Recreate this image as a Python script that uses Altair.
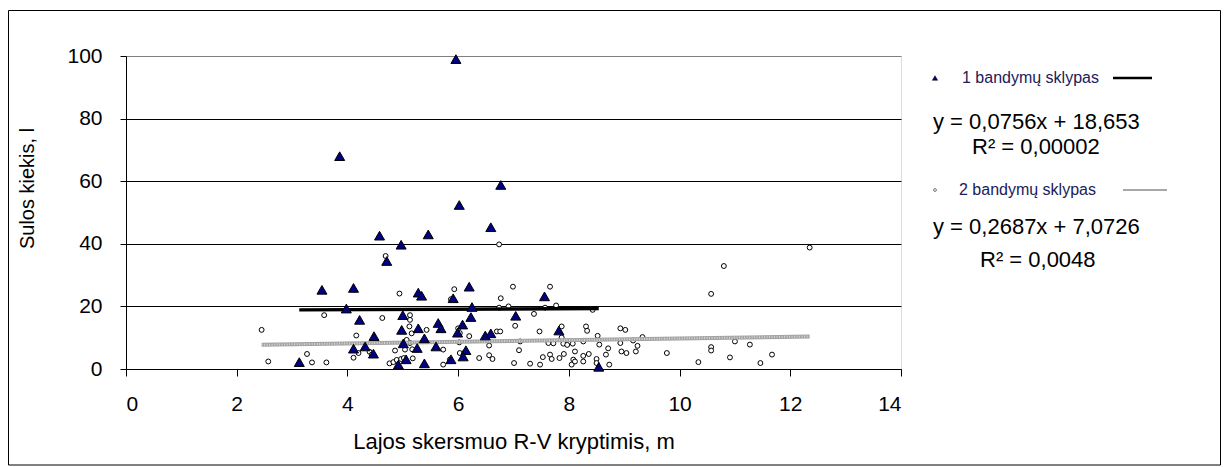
import altair as alt
import pandas as pd

# ---- data ----
s1_x = [5.96, 3.86, 6.77, 6.02, 6.59, 4.58, 5.46, 4.97, 4.71, 3.54, 4.11, 5.28, 5.34, 6.20, 5.91,
        7.56, 3.98, 6.25, 4.22, 5.00, 7.04, 6.23, 4.98, 5.28, 5.64, 5.69, 6.08, 5.99, 4.48, 7.82,
        6.49, 6.59, 5.39, 4.11, 4.32, 4.47, 5.01, 5.26, 5.60, 6.14, 5.06, 4.92, 5.39, 5.87, 6.09,
        3.13, 8.54]
s1_y = [99.0, 68.0, 58.8, 52.4, 45.3, 42.6, 43.0, 39.7, 34.5, 25.3, 25.9, 24.4, 23.4, 26.3, 22.6,
        23.2, 19.3, 19.8, 15.7, 17.2, 17.0, 16.6, 12.5, 13.0, 14.7, 13.0, 14.2, 11.6, 10.5, 12.3,
        10.7, 11.4, 9.8, 6.5, 7.2, 4.9, 8.2, 6.7, 7.2, 6.0, 3.1, 1.4, 1.8, 3.1, 4.0,
        2.2, 0.7]

s2_x = [2.45, 2.57, 3.27, 3.36, 3.62, 3.58, 4.16, 4.20, 4.11, 4.40, 4.44, 4.63, 4.69, 4.76, 4.83,
        4.89, 4.86, 4.94, 4.97, 5.02, 5.04, 5.07, 5.13, 5.13, 5.13, 5.12, 5.16, 5.17, 5.18, 5.43,
        5.73, 5.73, 5.85, 5.93, 5.87, 6.00, 6.03, 6.02, 6.03, 6.12, 6.20, 6.38, 6.56, 6.62, 6.56,
        6.70, 6.76, 6.74, 6.77, 6.74, 6.91, 6.99, 7.03, 7.01, 7.10, 7.12, 7.30, 7.37, 7.47, 7.48,
        7.53, 7.57, 7.63, 7.66, 7.66, 7.69, 7.72, 7.77, 7.83, 7.87, 7.87, 7.90, 7.91, 7.97, 8.05,
        8.07, 8.08, 8.11, 8.11, 8.26, 8.26, 8.26, 8.31, 8.33, 8.36, 8.43, 8.50, 8.50, 8.52, 8.55,
        8.67, 8.71, 8.73, 8.93, 9.02, 8.93, 8.95, 9.04, 9.16, 9.21, 9.24, 9.33, 9.77, 10.34, 10.57,
        10.57, 10.57, 10.80, 10.91, 11.00, 11.27, 11.46, 11.67, 12.35]
s2_y = [12.5, 2.4, 4.8, 2.1, 2.1, 17.2, 10.7, 5.1, 3.6, 5.5, 4.6, 16.3, 36.1, 1.8, 2.2,
        2.9, 5.9, 24.1, 3.2, 3.5, 6.2, 9.3, 8.3, 17.2, 15.7, 13.6, 11.4, 6.3, 3.4, 12.5,
        6.2, 1.4, 3.0, 25.5, 22.3, 13.0, 11.5, 8.5, 5.1, 5.3, 10.5, 3.5, 4.4, 3.2, 7.5,
        12.0, 12.0, 39.8, 22.6, 19.6, 20.0, 26.3, 13.8, 1.9, 6.0, 8.8, 1.7, 17.6, 12.0, 1.4,
        3.8, 19.6, 8.3, 26.3, 4.6, 3.2, 8.2, 20.3, 3.5, 13.6, 10.1, 8.1, 4.8, 7.7, 1.4,
        8.1, 3.0, 5.6, 2.4, 8.8, 4.2, 2.4, 13.6, 12.2, 4.8, 18.9, 3.2, 1.9, 10.6, 7.8,
        4.6, 6.6, 1.4, 13.0, 12.5, 8.3, 5.6, 5.1, 9.1, 5.6, 7.4, 10.2, 5.1, 2.2, 24.0,
        7.0, 5.9, 32.9, 3.7, 8.8, 7.8, 1.9, 4.6, 38.8]

s1_label = "1 bandymų sklypas"
s2_label = "2 bandymų sklypas"
eq1_text = "y = 0,0756x + 18,653"
r1_text = "R² = 0,00002"
eq2_text = "y = 0,2687x + 7,0726"
r2_text = "R² = 0,0048"
slope1, icpt1 = 0.0756, 18.653
slope2, icpt2 = 0.2687, 7.0726

x_ticks = [0, 2, 4, 6, 8, 10, 12, 14]
y_ticks = [0, 20, 40, 60, 80, 100]
x_title = "Lajos skersmuo R-V kryptimis, m"
y_title = "Sulos kiekis, l"

FONT = "Liberation Sans"

df1 = pd.DataFrame({"x": s1_x, "y": s1_y})
df2 = pd.DataFrame({"x": s2_x, "y": s2_y})
tr1 = pd.DataFrame({"x": [min(s1_x), max(s1_x)]})
tr1["y"] = slope1 * tr1["x"] + icpt1
tr2 = pd.DataFrame({"x": [min(s2_x), max(s2_x)]})
tr2["y"] = slope2 * tr2["x"] + icpt2

X = alt.X("x:Q", scale=alt.Scale(domain=[0, 14], nice=False, zero=False),
          axis=alt.Axis(values=x_ticks, title=x_title, grid=False, domainColor="black",
                        tickColor="black", tickSize=7, labelFontSize=21, labelPadding=17,
                        labelColor="black", titleColor="black", titleFontSize=22,
                        titleFontWeight="normal", titleY=62, titleBaseline="top",
                        labelFont=FONT, titleFont=FONT))
Y = alt.Y("y:Q", scale=alt.Scale(domain=[0, 100], nice=False),
          axis=alt.Axis(values=y_ticks, title=y_title, grid=True,
                        gridColor={"condition": {"test": "datum.value === 100", "value": "#808080"},
                                   "value": "#000000"},
                        gridWidth=1.2, domainColor="black", tickColor="black", tickSize=6,
                        labelFontSize=21, labelPadding=18, labelColor="black",
                        titleColor="black", titleFontSize=20, titleFontWeight="normal",
                        titleX=-99, titleY=132, titleAngle=-90, titleBaseline="middle",
                        titleAlign="center", labelFont=FONT, titleFont=FONT))

one = alt.Data(values=[{"a": 1}])

border = alt.Chart(one).mark_rect(fillOpacity=0, stroke="black", strokeWidth=1).encode(
    x=alt.value(-117.5), x2=alt.value(1094.5), y=alt.value(-45.5), y2=alt.value(409))

circles = alt.Chart(df2).mark_point(shape="circle", filled=True, fill="white", stroke="black",
                                    strokeWidth=1, size=24, opacity=1).encode(x=X, y=Y)

line1 = alt.Chart(tr1).mark_line(color="black", strokeWidth=3.5).encode(x=X, y=Y)
line2 = alt.Chart(tr2).mark_line(color="#a3a3a3", strokeWidth=4).encode(x=X, y=Y)
line2b = alt.Chart(tr2).mark_line(color="#d6d6d6", strokeWidth=2, strokeDash=[1, 1.5]).encode(x=X, y=Y)

triangles = alt.Chart(df1).mark_point(shape="triangle-up", filled=True, fill="#000080",
                                      stroke="black", strokeWidth=1, size=100,
                                      opacity=1).encode(x=X, y=Y)


def txt(t, x, y, size, color="black"):
    return alt.Chart(one).mark_text(text=t, align="left", baseline="middle", font=FONT,
                                    fontSize=size, color=color).encode(
        x=alt.value(x), y=alt.value(y))


leg_tri = alt.Chart(one).mark_point(shape="triangle-up", filled=True, fill="#000080",
                                    stroke="black", strokeWidth=0.5, size=28,
                                    opacity=1).encode(x=alt.value(809), y=alt.value(22))
leg_circ = alt.Chart(one).mark_point(shape="circle", filled=True, fill="white",
                                     stroke="#555555", strokeWidth=0.8, size=8,
                                     opacity=1).encode(x=alt.value(809), y=alt.value(134))
leg_line1 = alt.Chart(one).mark_rule(color="black", strokeWidth=2.5).encode(
    x=alt.value(987), x2=alt.value(1026), y=alt.value(22))
leg_line2 = alt.Chart(one).mark_rule(color="#a8a8a8", strokeWidth=2).encode(
    x=alt.value(997), x2=alt.value(1041), y=alt.value(134))

chart = alt.layer(
    border, circles, line2, line2b, line1, triangles,
    leg_tri, txt(s1_label, 836, 22, 16, "#20205a"), leg_line1,
    txt(eq1_text, 807, 66, 22), txt(r1_text, 846, 91, 22),
    leg_circ, txt(s2_label, 833, 134, 16, "#20205a"), leg_line2,
    txt(eq2_text, 807, 171, 22), txt(r2_text, 854, 204, 22),
).properties(
    width=775, height=313,
    autosize=alt.AutoSizeParams(type="none"),
    padding={"left": 118, "top": 48, "right": 320, "bottom": 100},
).configure_view(stroke="#808080", strokeWidth=1).configure(font=FONT)

chart.save("out.html", embed_options={"renderer": "svg", "actions": False})
